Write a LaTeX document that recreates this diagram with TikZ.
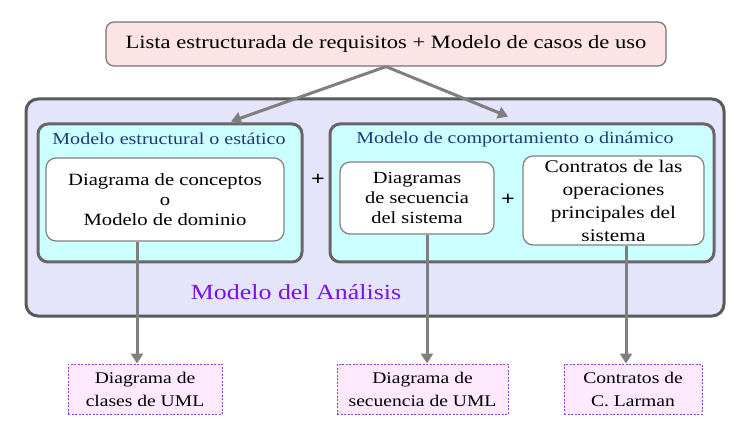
\documentclass[tikz,border=0pt]{standalone}
\usepackage{fontspec}
\setmainfont{Liberation Serif}[FakeStretch=1.2]
\usetikzlibrary{arrows.meta}
\definecolor{toppink}{HTML}{FDE4E4}
\definecolor{lav}{HTML}{E4E4FA}
\definecolor{cyanf}{HTML}{CCFFFF}
\definecolor{navy}{HTML}{1F3A7A}
\definecolor{purp}{HTML}{7A10F0}
\definecolor{outfill}{HTML}{FDE9FD}
\definecolor{outdraw}{HTML}{9540C8}
\definecolor{arrgray}{HTML}{7F7F7F}
\begin{document}
\begin{tikzpicture}[x=1pt,y=-1pt,
  topbox/.style={draw=black!55, line width=1.2pt, fill=toppink, rounded corners=8pt, minimum width=560pt, minimum height=44pt, inner sep=0pt, font=\fontsize{18.8}{22}\selectfont},
  bigbox/.style={draw=black!65, line width=3pt, fill=lav, rounded corners=12pt, minimum width=698pt, minimum height=217pt, inner sep=0pt},
  cyanbox/.style={draw=black!60, line width=3pt, fill=cyanf, rounded corners=10pt, minimum height=138pt, inner sep=0pt},
  titletext/.style={text=navy, font=\fontsize{16.7}{20}\selectfont, inner sep=0pt},
  whitebox/.style={draw=black!50, line width=1.2pt, fill=white, rounded corners=10pt, inner sep=0pt, align=center},
  plustext/.style={font=\fontsize{20}{20}\selectfont\bfseries, inner sep=0pt},
  outbox/.style={draw=outdraw, dashed, dash pattern=on 2pt off 1.5pt, line width=1pt, fill=outfill, minimum height=50pt, inner sep=0pt, align=center, font=\fontsize{16.3}{23}\selectfont},
  arr/.style={draw=arrgray, line width=3pt, -{Triangle[length=10pt,width=12pt]}}
]
\useasboundingbox (0,0) rectangle (744,438);
\node[topbox] (top) at (386,44) {Lista estructurada de requisitos + Modelo de casos de uso};
\node[bigbox] (big) at (375,207.5) {};
\node[cyanbox, minimum width=264pt] (left) at (170,193) {};
\node[titletext] (lt) at (169,139) {Modelo estructural o estático};
\node[whitebox, minimum width=238pt, minimum height=83pt, font=\fontsize{17.2}{20}\selectfont] (conc) at (165,199.5) {Diagrama de conceptos\\o\\Modelo de dominio};
\node[plustext] (p1) at (318,180) {+};
\node[cyanbox, minimum width=384pt] (right) at (522,193) {};
\node[titletext] (rt) at (515,139) {Modelo de comportamiento o dinámico};
\node[whitebox, minimum width=154pt, minimum height=72pt, font=\fontsize{17}{20}\selectfont] (dss) at (417,198) {Diagramas\\de secuencia\\del sistema};
\node[plustext] (p2) at (508,200) {+};
\node[whitebox, minimum width=181pt, minimum height=89pt, font=\fontsize{17.8}{23}\selectfont] (contr) at (613.5,200.5) {Contratos de las\\operaciones\\principales del\\sistema};
\node[text=purp, font=\fontsize{21.6}{26}\selectfont, inner sep=0pt] (anal) at (296,292) {Modelo del Análisis};
\node[outbox, minimum width=154pt] (uml1) at (145,389) {Diagrama de\\clases de UML};
\node[outbox, minimum width=171pt] (uml2) at (422.5,389) {Diagrama de\\secuencia de UML};
\node[outbox, minimum width=138pt] (uml3) at (633,389) {Contratos de\\C. Larman};
\draw[arr] (top.south) -- ([xshift=61pt,yshift=1pt]left.north);
\draw[arr] (top.south) -- ([xshift=-14pt,yshift=6pt]right.north);
\draw[arr] ([xshift=-28pt]conc.south) -- ([xshift=-28pt]conc.south |- uml1.north);
\draw[arr] ([xshift=10pt]dss.south) -- ([xshift=10pt]dss.south |- uml2.north);
\draw[arr] ([xshift=12.5pt]contr.south) -- ([xshift=12.5pt]contr.south |- uml3.north);
\end{tikzpicture}
\end{document}
